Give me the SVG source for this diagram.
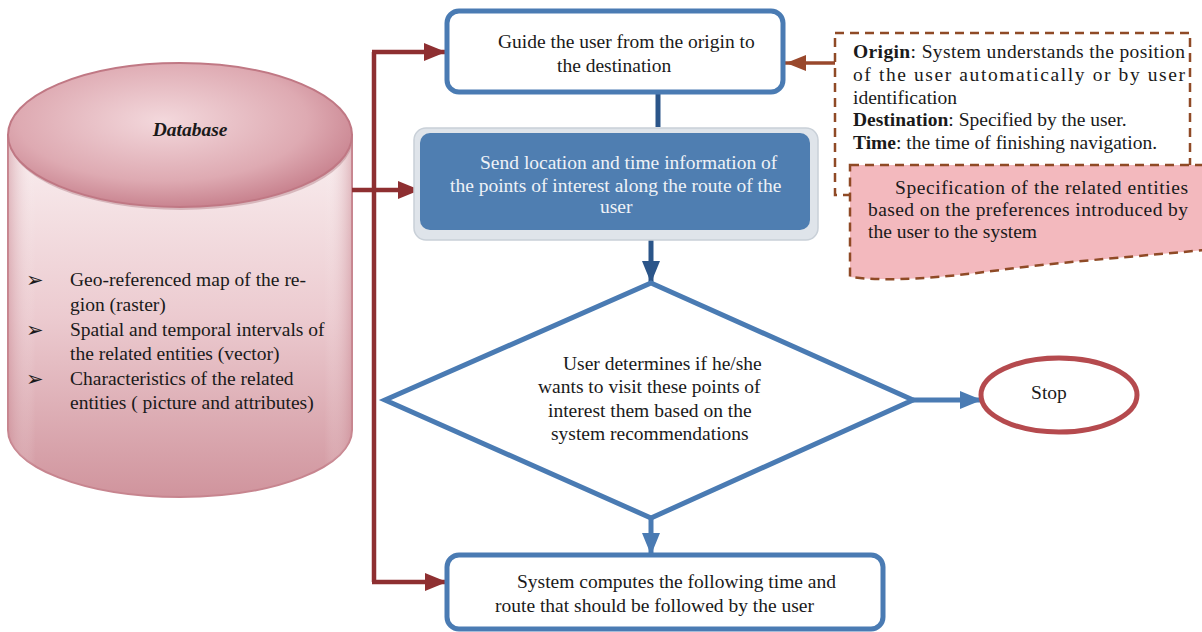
<svg xmlns="http://www.w3.org/2000/svg" width="1202" height="632" viewBox="0 0 1202 632">
<style>
text{font-family:"Liberation Serif","Times New Roman",serif;font-size:19.5px;fill:#1a1a1a}
.bul{font-family:"DejaVu Sans",sans-serif;font-size:21px}
.wt{fill:#eef2f7}
.red{stroke:#8e2f31;stroke-width:4.5;fill:none}
.blue{stroke:#4a7bb3;stroke-width:5;fill:none}
.dk{stroke:#2b5589;stroke-width:5;fill:none}
.brn{stroke:#99482c;stroke-width:3.5;fill:none}
.dash{stroke:#8f4a26;stroke-width:2.5;stroke-dasharray:9 6}
</style>
<defs>
<linearGradient id="body" x1="0" y1="0" x2="0" y2="1">
<stop offset="0" stop-color="#faf0f1"/><stop offset="0.5" stop-color="#eccbd0"/><stop offset="1" stop-color="#d0949d"/>
</linearGradient>
<linearGradient id="bodyH" x1="0" y1="0" x2="1" y2="0">
<stop offset="0" stop-color="#c98892" stop-opacity="0.5"/><stop offset="0.08" stop-color="#fff" stop-opacity="0"/><stop offset="0.92" stop-color="#fff" stop-opacity="0"/><stop offset="1" stop-color="#c98892" stop-opacity="0.5"/>
</linearGradient>
<radialGradient id="top" cx="0.45" cy="0.4" r="0.6">
<stop offset="0" stop-color="#f3d8dc"/><stop offset="0.7" stop-color="#deaab2"/><stop offset="1" stop-color="#c98490"/>
</radialGradient>
<marker id="aR" markerUnits="userSpaceOnUse" markerWidth="24" markerHeight="20" refX="22" refY="10" orient="auto"><path d="M0,1 L22,10 L0,19 Z" fill="#8e2f31"/></marker>
<marker id="aB" markerUnits="userSpaceOnUse" markerWidth="24" markerHeight="20" refX="22" refY="10" orient="auto"><path d="M0,1 L22,10 L0,19 Z" fill="#4a7bb3"/></marker>
<marker id="aD" markerUnits="userSpaceOnUse" markerWidth="24" markerHeight="20" refX="22" refY="10" orient="auto"><path d="M0,1 L22,10 L0,19 Z" fill="#2b5589"/></marker>
<marker id="aN" markerUnits="userSpaceOnUse" markerWidth="24" markerHeight="20" refX="22" refY="10" orient="auto"><path d="M0,2 L20,10 L0,18 Z" fill="#99482c"/></marker>
</defs>
<rect width="1202" height="632" fill="#fff"/>

<g id="database">
<path d="M8,135 L8,430 A172,67 0 0 0 352,430 L352,135 Z" fill="url(#body)" stroke="#c7858f" stroke-width="2"/>
<path d="M8,135 L8,430 A172,67 0 0 0 352,430 L352,135 Z" fill="url(#bodyH)"/>
<ellipse cx="181" cy="138" rx="172" ry="72" fill="#b98a91" opacity="0.5"/>
<ellipse cx="180" cy="135" rx="172" ry="72" fill="url(#top)" stroke="#c07884" stroke-width="2"/>
<text x="190" y="136" text-anchor="middle" font-weight="bold" font-style="italic">Database</text>
<text class="bul" x="26" y="287">➢</text>
<text x="70" y="286">Geo-referenced map of the re-</text>
<text x="70" y="311">gion (raster)</text>
<text class="bul" x="26" y="337">➢</text>
<text x="70" y="336">Spatial and temporal intervals of</text>
<text x="70" y="360">the related entities (vector)</text>
<text class="bul" x="26" y="386">➢</text>
<text x="70" y="385">Characteristics of the related</text>
<text x="70" y="409">entities ( picture and attributes)</text>
</g>

<g id="connectors">
<path class="red" d="M374,52 L374,582"/>
<path class="red" d="M372,52 L446,52" marker-end="url(#aR)"/>
<path class="red" d="M352,190 L420,190" marker-end="url(#aR)"/>
<path class="red" d="M372,582 L447,582" marker-end="url(#aR)"/>
<path class="dk" d="M658,92 L658,127"/>
<path class="dk" d="M651,240 L651,283" marker-end="url(#aD)"/>
<path class="blue" d="M651,518 L651,555" marker-end="url(#aB)"/>
<path class="blue" d="M913,400 L982,400" marker-end="url(#aB)"/>
<path class="brn" d="M835,63 L784,63" marker-end="url(#aN)"/>
</g>

<g id="guide">
<rect x="447" y="11" width="336" height="81" rx="12" fill="#fff" stroke="#4a7bb3" stroke-width="5"/>
<text x="498" y="48">Guide the user from the origin to</text>
<text x="557" y="72">the destination</text>
</g>

<g id="send">
<rect x="414" y="128" width="404" height="112" rx="12" fill="#dfe4ea" stroke="#c9d0d8" stroke-width="1.5"/>
<rect x="420" y="133" width="390" height="97" rx="10" fill="#4f7eb1"/>
<text class="wt" x="480" y="169">Send location and time information of</text>
<text class="wt" x="450" y="192">the points of interest along the route of the</text>
<text class="wt" x="600" y="213">user</text>
</g>

<g id="decision">
<path d="M651,283 L913,400 L651,518 L385,400 Z" fill="#fff" stroke="#4a7bb3" stroke-width="5" stroke-linejoin="miter"/>
<text x="563" y="370">User determines if he/she</text>
<text x="538" y="393">wants to visit these points of</text>
<text x="548" y="417">interest them based on the</text>
<text x="551" y="440">system recommendations</text>
</g>

<g id="stop">
<ellipse cx="1059" cy="395" rx="78" ry="37" fill="#fff" stroke="#b54a4e" stroke-width="5"/>
<text x="1049" y="399" text-anchor="middle">Stop</text>
</g>

<g id="compute">
<rect x="447" y="555" width="436" height="74" rx="12" fill="#fff" stroke="#4a7bb3" stroke-width="5"/>
<text x="517" y="588">System computes the following time and</text>
<text x="495" y="612">route that should be followed by the user</text>
</g>

<g id="info">
<rect x="835" y="33" width="355" height="162" class="dash" style="fill:#fff"/>
<text x="853" y="58" textLength="332" lengthAdjust="spacing"><tspan font-weight="bold">Origin</tspan>: System understands the position</text>
<text x="853" y="81" textLength="332" lengthAdjust="spacing">of the user automatically or by user</text>
<text x="853" y="104">identification</text>
<text x="853" y="126"><tspan font-weight="bold">Destination</tspan>: Specified by the user.</text>
<text x="853" y="149"><tspan font-weight="bold">Time</tspan>: the time of finishing navigation.</text>
</g>

<g id="preferences">
<path d="M850,165 L1204,165 L1204,250 C1120,258 1060,262 1000,270 C940,278 890,282 850,277 Z" fill="#f3b9be" class="dash"/>
<text x="895" y="194" textLength="293" lengthAdjust="spacing">Specification of the related entities</text>
<text x="868" y="216" textLength="320" lengthAdjust="spacing">based on the preferences introduced by</text>
<text x="868" y="238">the user to the system</text>
</g>
</svg>
